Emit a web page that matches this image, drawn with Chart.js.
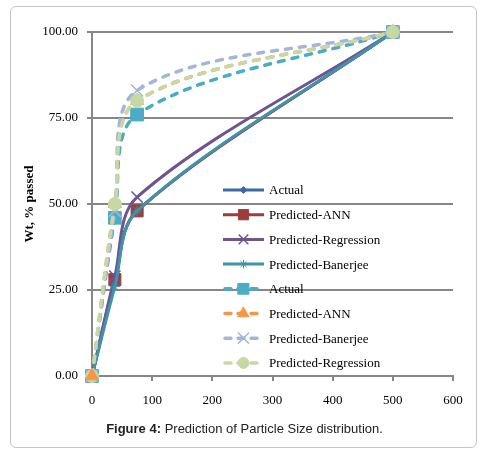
<!DOCTYPE html>
<html>
<head>
<meta charset="utf-8">
<script src="https://cdn.jsdelivr.net/npm/chart.js@4/dist/chart.umd.min.js"></script>
<style>
	html, body { margin: 0; padding: 0; background: #fff; }
	#page { position: relative; width: 489px; height: 454px; overflow: hidden; }
	#frame { position: absolute; left: 10px; top: 6px; width: 465px; height: 440px;
		border: 1px solid #c4c4c4; border-radius: 6px; }
	#wrap { position: absolute; left: 0; top: 0; width: 489px; height: 454px; }
	#caption { position: absolute; left: 0; width: 489px; top: 421px; text-align: center;
		font-family: 'Liberation Sans', Arial, sans-serif; font-size: 13px; color: #222; }
</style>
</head>
<body>
<div id="page">
	<div id="frame"></div>
	<div id="wrap"><canvas id="psdChart"></canvas></div>
	<div id="caption"><b>Figure 4:</b> Prediction of Particle Size distribution.</div>
</div>
<script>
//particle size distribution chart

//sieve sizes (x) and % passed for each series
const sizes = [0, 38, 75, 500];

const actual1 = [0, 27, 48, 100];
const ann1 = [0, 28, 48, 100];
const regression1 = [0, 29, 52, 100];
const banerjee1 = [0, 26, 48, 100];

const actual2 = [0, 46, 76, 100];
const ann2 = [0, 50, 80, 100];
const banerjee2 = [0, 48, 83, 100];
const regression2 = [0, 50, 80, 100];

const seriesNames = ['Actual', 'Predicted-ANN', 'Predicted-Regression', 'Predicted-Banerjee',
	'Actual', 'Predicted-ANN', 'Predicted-Banerjee', 'Predicted-Regression'];
const seriesValues = [actual1, ann1, regression1, banerjee1, actual2, ann2, banerjee2, regression2];

const xTicks = [0, 100, 200, 300, 400, 500, 600];
const yTicks = [0, 25, 50, 75, 100];

//styles per series
const styles = [
	{ color: '#3c6aa2', point: 'rectRot', radius: 4, dash: [] },
	{ color: '#9b3d3b', point: 'rect', radius: 8.5, dash: [] },
	{ color: '#6d5690', point: 'crossRot', radius: 8, dash: [] },
	{ color: '#3e94aa', point: 'star', radius: 5, dash: [] },
	{ color: '#4aacc6', point: 'rect', radius: 9, dash: [6, 8] },
	{ color: '#f79646', point: 'triangle', radius: 7.5, dash: [6, 8] },
	{ color: '#a2b6da', point: 'crossRot', radius: 8.5, dash: [6, 8] },
	{ color: '#c6d8a4', point: 'circle', radius: 6.5, dash: [6, 8] }
];

function toPoints(values) {
	return values.map((v, i) => ({ x: sizes[i], y: v }));
}

const datasets = seriesValues.map((vals, i) => {
	const s = styles[i];
	return {
		label: seriesNames[i],
		data: toPoints(vals),
		borderColor: s.color,
		backgroundColor: s.color,
		borderWidth: s.dash.length ? 3.5 : 3,
		borderDash: s.dash,
		borderCapStyle: s.dash.length ? 'round' : 'butt',
		pointStyle: s.point,
		pointRadius: s.radius,
		pointBorderWidth: s.point.startsWith('cross') ? 1.5 : 1,
		pointBorderColor: s.color,
		pointBackgroundColor: s.color,
		tension: 0.33,
		showLine: true,
		fill: false,
		clip: false,
		order: seriesValues.length - i // later series on top, like excel
	};
});

//orange triangle at the origin sits on top in the original
const originMarker = {
	id: 'originMarker',
	afterDatasetsDraw(chart) {
		const pt = chart.getDatasetMeta(5).data[0];
		if (pt) pt.draw(chart.ctx);
	}
};

//legend drawn inside the plot area
const insideLegend = {
	id: 'insideLegend',
	afterDraw(chart) {
		const ctx = chart.ctx;
		const x0 = 223, x1 = 264, tx = 269;
		const y0 = 190, step = 24.7;
		ctx.save();
		datasets.forEach((ds, i) => {
			const y = y0 + i * step;
			const s = styles[i];
			ctx.strokeStyle = s.color;
			ctx.lineWidth = ds.borderWidth;
			ctx.lineCap = ds.borderCapStyle;
			ctx.setLineDash(s.dash.length ? [6, 7] : []);
			ctx.beginPath();
			ctx.moveTo(x0 + (s.dash.length ? 2 : 0), y);
			ctx.lineTo(x1, y);
			ctx.stroke();
			ctx.setLineDash([]);
			ctx.fillStyle = s.color;
			ctx.lineWidth = ds.pointBorderWidth;
			Chart.helpers.drawPoint(ctx, {
				pointStyle: s.point, rotation: 0, radius: s.radius * 0.85, borderWidth: ds.pointBorderWidth
			}, (x0 + x1) / 2, y);
			ctx.fillStyle = '#000';
			ctx.font = '13px "Liberation Serif", "Times New Roman", serif';
			ctx.textBaseline = 'middle';
			ctx.textAlign = 'left';
			ctx.fillText(ds.label, tx, y + 1);
		});
		ctx.restore();
	}
};

const serif = { family: '"Liberation Serif", "Times New Roman", serif', size: 13 };

const config = {
	type: 'scatter',
	data: { datasets: datasets },
	options: {
		responsive: true,
		maintainAspectRatio: false,
		animation: false,
		layout: { padding: { left: 0, right: 36, top: 32, bottom: 48 } },
		plugins: {
			legend: { display: false },
			tooltip: { enabled: false }
		},
		scales: {
			x: {
				type: 'linear',
				min: 0,
				max: 600,
				afterBuildTicks: function (scale) {
					scale.ticks = xTicks.map(v => ({ value: v }));
				},
				afterFit: function (scale) { scale.height = 30; },
				grid: { drawOnChartArea: false, drawTicks: true, tickLength: 5, color: '#878787', lineWidth: 2 },
				border: { display: true, color: '#878787', width: 2 },
				ticks: { font: serif, color: '#000', padding: 12, maxRotation: 0 }
			},
			y: {
				type: 'linear',
				min: 0,
				max: 100,
				afterBuildTicks: function (scale) {
					scale.ticks = yTicks.map(v => ({ value: v }));
				},
				afterFit: function (scale) { scale.width = 92; },
				grid: { drawTicks: true, tickLength: 5, color: '#878787', lineWidth: 2 },
				border: { display: true, color: '#878787', width: 2 },
				ticks: {
					font: serif, color: '#000', padding: 9,
					callback: function (value) { return value.toFixed(2); }
				},
				title: {
					display: true,
					text: 'Wt, % passed',
					font: { family: serif.family, size: 13, weight: 'bold' },
					color: '#000',
					padding: { top: 22, bottom: 0 }
				}
			}
		}
	},
	plugins: [originMarker, insideLegend]
};

const ctx = document.getElementById('psdChart').getContext('2d');
const chart = new Chart(ctx, config);
</script>
</body>
</html>
